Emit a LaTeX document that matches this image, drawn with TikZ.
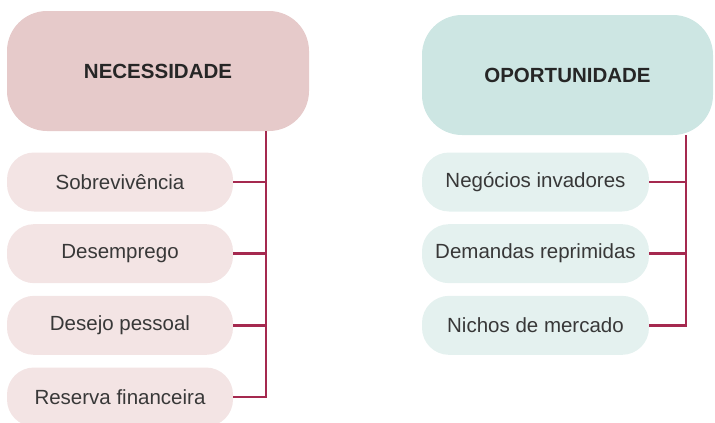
\documentclass[tikz,border=0pt]{standalone}
\usepackage{fontspec}
\setmainfont{Liberation Sans}
\definecolor{necfundo}{HTML}{E6CACA}
\definecolor{necitem}{HTML}{F3E4E4}
\definecolor{opofundo}{HTML}{CDE6E3}
\definecolor{opoitem}{HTML}{E4F1EF}
\definecolor{linha}{HTML}{A5294F}
\begin{document}
\begin{tikzpicture}[x=1pt,y=-1pt,
    topo/.style={rounded corners=40pt,inner sep=0pt,minimum height=120pt,
      font=\fontsize{20.5}{24}\selectfont\bfseries,text=black!85},
    item/.style={rounded corners=27pt,inner sep=0pt,minimum width=226pt,minimum height=59pt,
      font=\fontsize{20.5}{24}\selectfont,text=black!78},
    liga/.style={draw=linha,line width=2.4pt}]
  \useasboundingbox (0,0) rectangle (715,423);
  % caixas de topo
  \node[topo,fill=necfundo,minimum width=302pt] (nec) at (158,71) {NECESSIDADE};
  \node[topo,fill=opofundo,minimum width=291pt] (opo) at (567.5,75) {OPORTUNIDADE};
  \coordinate (eixoN) at (266,0);
  \coordinate (eixoO) at (686,0);
  % itens
  \foreach \nome [count=\i] in {Sobrevivência,Desemprego,Desejo pessoal,Reserva financeira}
    \node[item,fill=necitem] (n\i) at (120,{182+71.67*(\i-1)}) {\nome};
  \foreach \nome [count=\i] in {Negócios invadores,Demandas reprimidas,Nichos de mercado}
    \node[item,fill=opoitem,minimum width=227pt] (o\i) at (535.5,{182+71.67*(\i-1)}) {\nome};
  % ligacoes
  \draw[liga] (nec.south -| eixoN) -- (n4.east -| eixoN) -- (n4.east);
  \draw[liga] (opo.south -| eixoO) -- (o3.east -| eixoO) -- (o3.east);
  \foreach \i in {1,2,3}
    \draw[liga] (n\i.east) -- (n\i.east -| eixoN);
  \foreach \i in {1,2}
    \draw[liga] (o\i.east) -- (o\i.east -| eixoO);
\end{tikzpicture}
\end{document}
